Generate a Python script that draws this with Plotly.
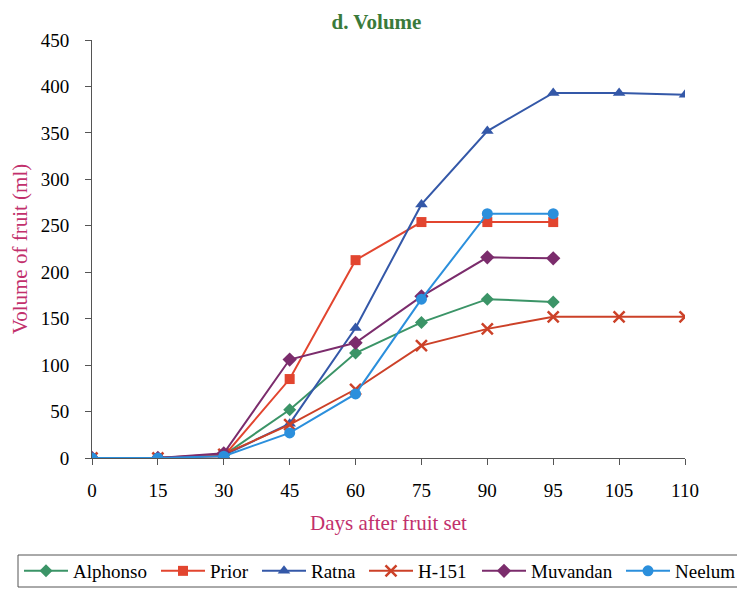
import plotly.graph_objects as go

days = ["0", "15", "30", "45", "60", "75", "90", "95", "105", "110"]

alphonso = [0, 0, 3, 52, 113, 146, 171, 168]
prior = [0, 0, 2, 85, 213, 254, 254, 254]
ratna = [0, 0, 3, 37, 140, 273, 352, 393, 393, 391]
h151 = [0, 0, 4, 36, 74, 121, 139, 152, 152, 152]
muvandan = [0, 0, 5, 106, 124, 174, 216, 215]
neelum = [0, 0, 2, 27, 69, 171, 263, 263]

series = [
    ("Alphonso", alphonso, "#3b9467", "diamond", 10),
    ("Prior", prior, "#e2452f", "square", 10),
    ("Ratna", ratna, "#3458a8", "triangle-up", 11),
    ("H-151", h151, "#cc4128", "x-thin-open", 11),
    ("Muvandan", muvandan, "#7b2c6c", "diamond", 11),
    ("Neelum", neelum, "#2b8fdc", "circle", 11),
]

W, H = 737, 583
ML, MR, MT, MB = 84, 60, 32, 133
PW, PH = W - ML - MR, H - MT - MB

def px_x(fx):
    return (fx - ML) / PW

def px_y(fy):
    return (H - MB - fy) / PH

# legend entry left edges (figure pixels)
legend_left = [11, 148, 249, 356, 469, 613]
legend_keys = ["legend", "legend2", "legend3", "legend4", "legend5", "legend6"]

fig = go.Figure()
for (name, vals, color, sym, size), key in zip(series, legend_keys):
    marker = dict(symbol=sym, size=size, color=color)
    if sym == "x-thin-open":
        marker["line"] = dict(color=color, width=2.5)
    fig.add_trace(go.Scatter(
        x=days[:len(vals)], y=vals, name=name, mode="lines+markers",
        line=dict(color=color, width=2), marker=marker, legend=key,
        showlegend=True,
    ))

serif = "Liberation Serif"
axis_col = "#555"
layout_legends = {}
for key, lx in zip(legend_keys, legend_left):
    layout_legends[key] = dict(
        orientation="h", xref="container", yref="container",
        x=lx / W, xanchor="left", y=1 - 563 / H, yanchor="middle",
        bgcolor="rgba(0,0,0,0)", borderwidth=0, font=dict(family=serif, size=19),
        itemwidth=44,
    )

fig.update_layout(
    width=W, height=H,
    margin=dict(l=ML, r=MR, t=MT, b=MB),
    showlegend=True,
    plot_bgcolor="white", paper_bgcolor="white",
    font=dict(family=serif, size=19, color="black"),
    title=dict(text="<b>d. Volume</b>", x=0.5, xanchor="center", y=1 - 14 / H, yanchor="middle",
               font=dict(family=serif, size=21, color="#3a7a3a")),
    xaxis=dict(type="category", categoryorder="array", categoryarray=days,
               range=[0, 9], showline=True, linecolor=axis_col, linewidth=1,
               ticks="outside", ticklen=6, tickcolor=axis_col, ticklabelstandoff=9,
               showgrid=False, zeroline=False, automargin=False,
               title=dict(text="Days after fruit set", font=dict(family=serif, size=21, color="#c2306c"), standoff=15)),
    yaxis=dict(range=[0, 450], dtick=50, showline=True, linecolor=axis_col, linewidth=1,
               ticks="outside", ticklen=6, tickcolor=axis_col, ticklabelstandoff=12,
               showgrid=False, zeroline=False, automargin=False,
               title=dict(text="Volume of fruit (ml)", font=dict(family=serif, size=21, color="#c2306c"), standoff=15)),
    shapes=[dict(type="rect", xref="paper", yref="paper",
                 x0=px_x(10), x1=px_x(760), y0=px_y(579), y1=px_y(547),
                 line=dict(color="#555", width=1), fillcolor="rgba(0,0,0,0)", layer="below")],
    **layout_legends,
)
fig.write_html("out.html")
